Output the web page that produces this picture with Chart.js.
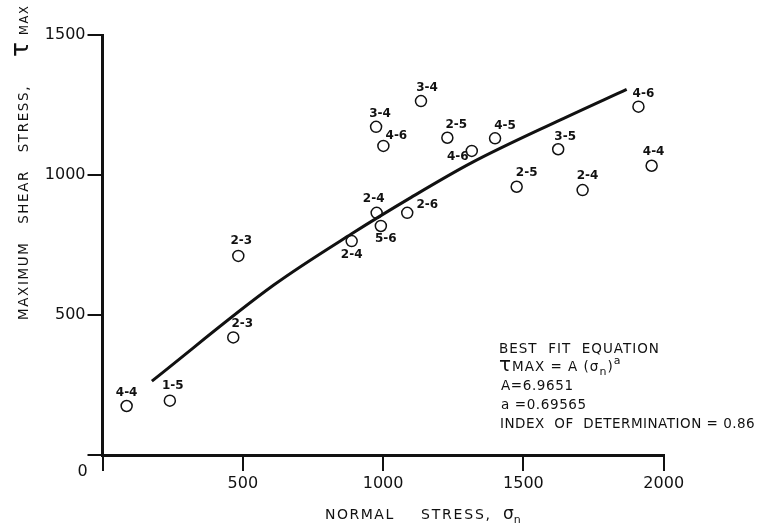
<!DOCTYPE html>
<html>
<head>
<meta charset="utf-8">
<script src="https://cdn.jsdelivr.net/npm/chart.js@4/dist/chart.umd.min.js"></script>
<style>
  html, body { margin: 0; padding: 0; background: #fff; }
</style>
</head>
<body>
<canvas id="shearChart" width="764" height="526"></canvas>
<script>
// test tags and stresses
const sampleTags = ["4-4", "1-5", "2-3", "2-3", "2-4", "2-4", "5-6", "2-6", "3-4", "3-4",
                    "4-6", "2-5", "4-6", "4-5", "3-5", "2-5", "2-4", "4-6", "4-4"];
const normalStress = [86, 240, 484, 466, 888, 977, 992, 1086, 1135, 975,
                      1001, 1229, 1316, 1399, 1624, 1476, 1711, 1910, 1957];
const shearStress = [175, 194, 711, 420, 764, 865, 818, 865, 1264, 1172,
                     1104, 1133, 1086, 1131, 1092, 958, 946, 1244, 1033];

// best fit curve
const fitStress = [176, 609, 888, 1100, 1316, 1630, 1868];
const fitShear = [264, 606, 790, 920, 1044, 1196, 1306];

const xTicks = [0, 500, 1000, 1500, 2000];
const yTicks = [0, 500, 1000, 1500];

// where each tag sits relative to its circle, in px
const tagOffsets = [[0, -13], [3, -15], [3, -15], [9, -14], [0, 14], [-3, -14], [5, 13], [20, -8],
                    [6, -13], [4, -13], [13, -10], [9, -13], [-14, 6], [10, -12], [7, -12],
                    [10, -14], [5, -14], [5, -13], [2, -14]];

const FONT = '"DejaVu Sans", sans-serif';
const INK = "#111";

// draws pieces of text one after another: [text, size, rise]
function drawRuns(ctx, x, y, runs, spacing) {
  let cx = x;
  ctx.letterSpacing = (spacing || 0) + "px";
  runs.forEach(r => {
    ctx.font = r[1] + "px " + FONT;
    ctx.fillText(r[0], cx, y - (r[2] || 0));
    cx += ctx.measureText(r[0]).width;
  });
  ctx.letterSpacing = "0px";
  return cx;
}

const tagPlugin = {
  id: "tags",
  afterDatasetsDraw(chart) {
    const ctx = chart.ctx;
    const meta = chart.getDatasetMeta(1);
    ctx.save();
    ctx.fillStyle = INK;
    ctx.font = "bold 12px " + FONT;
    ctx.textAlign = "center";
    ctx.textBaseline = "middle";
    meta.data.forEach((pt, i) => {
      ctx.fillText(sampleTags[i], pt.x + tagOffsets[i][0], pt.y + tagOffsets[i][1]);
    });
    ctx.restore();
  }
};

const textPlugin = {
  id: "figText",
  afterDraw(chart) {
    const ctx = chart.ctx;
    const area = chart.chartArea;
    ctx.save();
    ctx.fillStyle = INK;
    ctx.textBaseline = "alphabetic";
    ctx.textAlign = "left";

    // origin label
    ctx.font = "16px " + FONT;
    ctx.fillText("0", area.left - 25, area.bottom + 21);

    // x axis title
    drawRuns(ctx, 325, 519, [["NORMAL", 14]], 1.5);
    drawRuns(ctx, 421, 519, [["STRESS,", 14]], 1.8);
    drawRuns(ctx, 503, 519, [["σ", 17], ["n", 11, -4]], 0);

    // y axis title, reads bottom to top
    ctx.save();
    ctx.translate(28, 320);
    ctx.rotate(-Math.PI / 2);
    drawRuns(ctx, 0, 0, [["MAXIMUM   SHEAR   STRESS,   ", 13.5]], 1.6);
    drawRuns(ctx, 263, 0, [["τ", 25]], 0);
    drawRuns(ctx, 285, 0, [["MAX", 11.5]], 1.6);
    ctx.restore();

    // fit annotation
    const ax = 499;
    drawRuns(ctx, ax, 353, [["BEST  FIT  EQUATION", 13.5]], 1);
    drawRuns(ctx, ax, 371, [["τ", 20], ["MAX = A (σ", 13.5], ["n", 11, -4], [")", 13.5], ["a", 11, 7]], 1);
    drawRuns(ctx, ax + 2, 390, [["A=6.9651", 13.5]], 0.6);
    drawRuns(ctx, ax + 2, 409, [["a =0.69565", 13.5]], 0.6);
    drawRuns(ctx, ax + 1, 428, [["INDEX  OF  DETERMINATION = 0.86", 13.5]], 0.5);
    ctx.restore();
  }
};

const scatterPoints = normalStress.map((x, i) => ({ x: x, y: shearStress[i] }));
const fitPoints = fitStress.map((x, i) => ({ x: x, y: fitShear[i] }));

new Chart(document.getElementById("shearChart"), {
  type: "scatter",
  data: {
    datasets: [
      {
        label: "Best fit",
        data: fitPoints,
        showLine: true,
        borderColor: INK,
        borderWidth: 3,
        pointRadius: 0,
        cubicInterpolationMode: "monotone",
        clip: false
      },
      {
        label: "Tests",
        data: scatterPoints,
        pointStyle: "circle",
        pointRadius: 5.5,
        borderWidth: 1.5,
        borderColor: INK,
        backgroundColor: "#fff",
        clip: false
      }
    ]
  },
  options: {
    responsive: false,
    devicePixelRatio: 1,
    animation: false,
    layout: { padding: { left: 42.5, right: 100.3, top: 35, bottom: 31 } },
    plugins: {
      legend: { display: false },
      tooltip: { enabled: false }
    },
    scales: {
      x: {
        type: "linear",
        position: "bottom",
        min: 0,
        max: 2000,
        afterBuildTicks: s => { s.ticks = xTicks.map(v => ({ value: v })); },
        afterFit: s => { s.height = 40; },
        grid: { drawOnChartArea: false, drawTicks: true, tickLength: 16, color: INK, lineWidth: 2 },
        border: { display: true, color: INK, width: 3 },
        ticks: {
          padding: 3,
          color: INK,
          font: { family: FONT, size: 16 },
          callback: v => (v === 0 ? "" : v)
        }
      },
      y: {
        type: "linear",
        position: "left",
        min: 0,
        max: 1500,
        afterBuildTicks: s => { s.ticks = yTicks.map(v => ({ value: v })); },
        afterFit: s => { s.width = 60; },
        grid: { drawOnChartArea: false, drawTicks: true, tickLength: 15, color: INK, lineWidth: 2 },
        border: { display: true, color: INK, width: 3 },
        ticks: {
          padding: 2,
          color: INK,
          font: { family: FONT, size: 16 },
          callback: v => (v === 0 ? "" : v)
        }
      }
    }
  },
  plugins: [tagPlugin, textPlugin]
});
</script>
</body>
</html>
